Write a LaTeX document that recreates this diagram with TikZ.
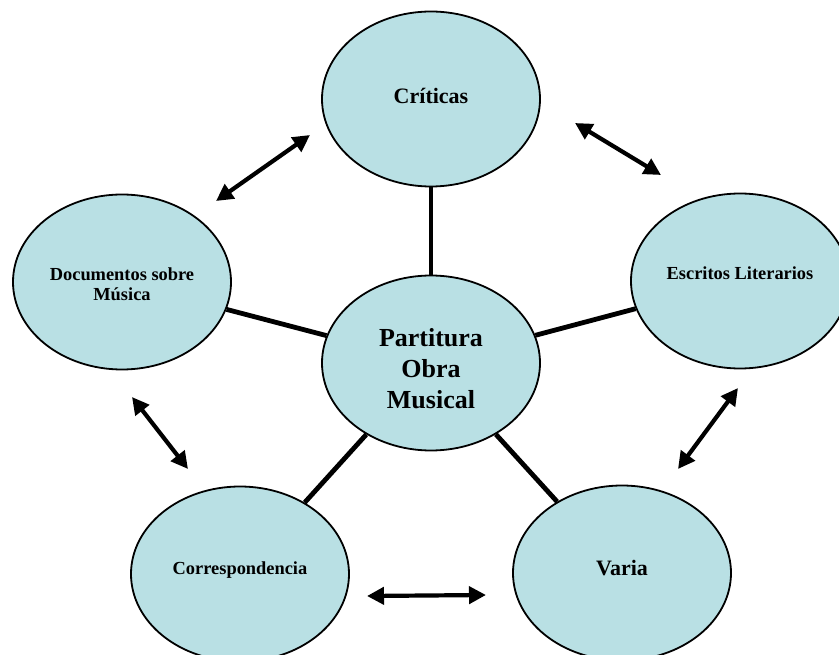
\documentclass[tikz,border=0pt]{standalone}
\usepackage{fontspec}
\setmainfont{Liberation Serif}
\usepackage{xcolor}
\usepackage{tikz}
\usetikzlibrary{shapes,positioning,calc}
\usetikzlibrary{arrows.meta}
\definecolor{celeste}{RGB}{185,224,228}
\tikzset{>=latex}
\tikzset{
  burbuja/.style={ellipse,draw=black,line width=1.8pt,fill=celeste,
    minimum width=218pt,minimum height=175pt,inner sep=0pt,align=center},
  enlace/.style={line width=4.8pt},
  flecha/.style={line width=4.2pt,
    {Triangle[length=17pt,width=17pt]}-{Triangle[length=17pt,width=17pt]}}
}
% mueve el texto de un nodo sin cambiar su caja
\newcommand{\moverTexto}[2]{\raisebox{#1}[\height][\depth]{\begin{tabular}{@{}c@{}}#2\end{tabular}}}

\begin{document}
\begin{tikzpicture}[x=1pt,y=-1pt]
	\useasboundingbox (0,0) rectangle (839,655);
	\clip (0,0) rectangle (839,655);
	% nodo central y los cinco tipos de documento
	\node[burbuja,font=\bfseries\fontsize{26}{31}\selectfont] (partitura) at (431,363) {\moverTexto{-8pt}{Partitura\\Obra\\Musical}};
	\node[burbuja,font=\bfseries\fontsize{22}{26}\selectfont] (criticas) at (431,99) {\moverTexto{1pt}{Críticas}};
	\node[burbuja,font=\bfseries\fontsize{18.4}{20}\selectfont] (documentos) at (122,282) {\moverTexto{-5pt}{Documentos sobre\\Música}};
	\node[burbuja,font=\bfseries\fontsize{18.4}{20}\selectfont] (escritos) at (740,281) {\moverTexto{5pt}{Escritos Literarios}};
	\node[burbuja,font=\bfseries\fontsize{18.4}{20}\selectfont] (correspondencia) at (240,574) {\moverTexto{4pt}{Correspondencia}};
	\node[burbuja,font=\bfseries\fontsize{22}{26}\selectfont] (varia) at (622,573) {\moverTexto{3pt}{Varia}};
	% enlaces con el centro
	\draw[enlace] (partitura) -- (criticas);
	\draw[enlace] (partitura) -- (documentos);
	\draw[enlace] (partitura) -- (escritos);
	\draw[enlace] (partitura) -- (correspondencia);
	\draw[enlace] (partitura) -- (varia);
	% flechas dobles entre vecinos
	\coordinate (cd1) at (310,135); \coordinate (cd2) at (216,201);
	\coordinate (ce1) at (575,123); \coordinate (ce2) at (661,175);
	\coordinate (dc1) at (132,397); \coordinate (dc2) at (188,469);
	\coordinate (ev1) at (738,388); \coordinate (ev2) at (678,469);
	\coordinate (cv1) at (367,596); \coordinate (cv2) at (486,595);
	\draw[flecha] (cd1) -- (cd2);
	\draw[flecha] (ce1) -- (ce2);
	\draw[flecha] (dc1) -- (dc2);
	\draw[flecha] (ev1) -- (ev2);
	\draw[flecha] (cv1) -- (cv2);
\end{tikzpicture}
\end{document}
